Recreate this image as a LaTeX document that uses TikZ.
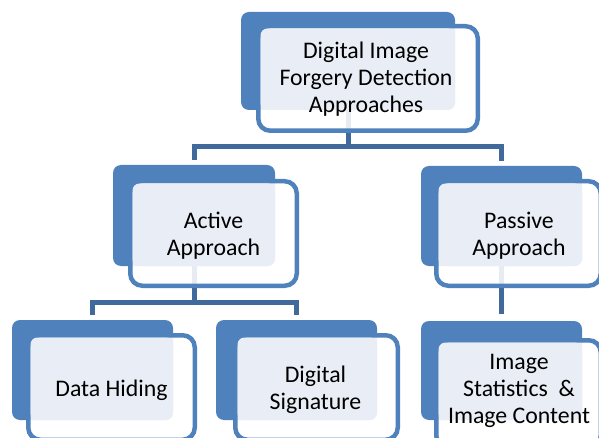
\documentclass[tikz,border=0pt]{standalone}
\usepackage{fontspec}
\setmainfont{Carlito}
\usetikzlibrary{calc}

\definecolor{boxblue}{HTML}{4F81BD}
\definecolor{linkblue}{HTML}{406A9C}
\definecolor{paneltint}{HTML}{E9EEF6}

\tikzset{
  backbox/.style={fill=boxblue, rounded corners=8pt, inner sep=0pt, outer sep=0pt},
  framebox/.style={draw=boxblue, line width=4.5pt, fill=white, fill opacity=0.88,
                   rounded corners=12pt, inner sep=0pt, outer sep=0pt},
  tint/.style={fill=paneltint, rounded corners=7pt},
  link/.style={draw=linkblue, line width=5pt},
  caption/.style={align=center, inner sep=0pt, text=black,
                  font=\fontsize{23.8}{27}\selectfont},
}

\begin{document}
\begin{tikzpicture}[x=1pt, y=-1pt]
\path[use as bounding box, clip] (0,0) rectangle (599,438);

% solid back plates
\node[backbox, minimum width=214pt, minimum height=98pt]  (topback)     at (348,61)      {};
\node[backbox, minimum width=162pt, minimum height=101pt] (activeback)  at (194,215.5)   {};
\node[backbox, minimum width=161pt, minimum height=100pt] (passiveback) at (501.5,216)   {};
\node[backbox, minimum width=161pt, minimum height=100pt] (databack)    at (92.5,370)    {};
\node[backbox, minimum width=161pt, minimum height=100pt] (sigback)     at (296.5,370)   {};
\node[backbox, minimum width=161pt, minimum height=99pt]  (imgback)     at (501.5,370.5) {};

% hierarchy connectors
\coordinate (busA) at (0,146.5);
\coordinate (busB) at (0,302.5);
\draw[link] (topback.south) -- (topback.south |- busA);
\draw[link] ($(activeback.north)+(0,-5)$) |- (topback.south |- busA)
            -| ($(passiveback.north)+(0,-5)$);
\draw[link] (activeback.south) -- (activeback.south |- busB);
\draw[link] ($(databack.north)+(0,-5)$) |- (activeback.south |- busB)
            -| ($(sigback.north)+(0,-5)$);
\draw[link] (passiveback.south) -- ($(imgback.north)+(0,-7)$);

% outlined front frames
\node[framebox, minimum width=219.5pt, minimum height=104.5pt] (top)     at (368,78.5)    {};
\node[framebox, minimum width=166.5pt, minimum height=104.5pt] (active)  at (213.5,233.5) {};
\node[framebox, minimum width=164.5pt, minimum height=104.5pt] (passive) at (518.5,233.5) {};
\node[framebox, minimum width=166.5pt, minimum height=104.5pt] (data)    at (111.5,387.5) {};
\node[framebox, minimum width=162.5pt, minimum height=104.5pt] (sig)     at (316.5,387.5) {};
\node[framebox, minimum width=164.5pt, minimum height=107.5pt] (img)     at (518.5,394)   {};

% tinted text panels
\foreach \f/\b in {top/topback, active/activeback, passive/passiveback,
                   data/databack, sig/sigback, img/imgback}
  \fill[tint] ($(\f.north west)+(2.25,2.25)$) rectangle (\b.south east);

% labels
\node[caption] (ttop)     at (366,79.5)   {Digital Image\\Forgery Detection\\Approaches};
\node[caption] (tactive)  at (213.5,235.5){Active\\Approach};
\node[caption] (tpassive) at (519,235.5)  {Passive\\Approach};
\node[caption] (tdata)    at (111.5,390)  {Data Hiding};
\node[caption] (tsig)     at (315.5,389.5){Digital\\Signature};
\node[caption] (timg)     at (519,391)    {Image\\Statistics~ \&\\Image Content};
\end{tikzpicture}
\end{document}
